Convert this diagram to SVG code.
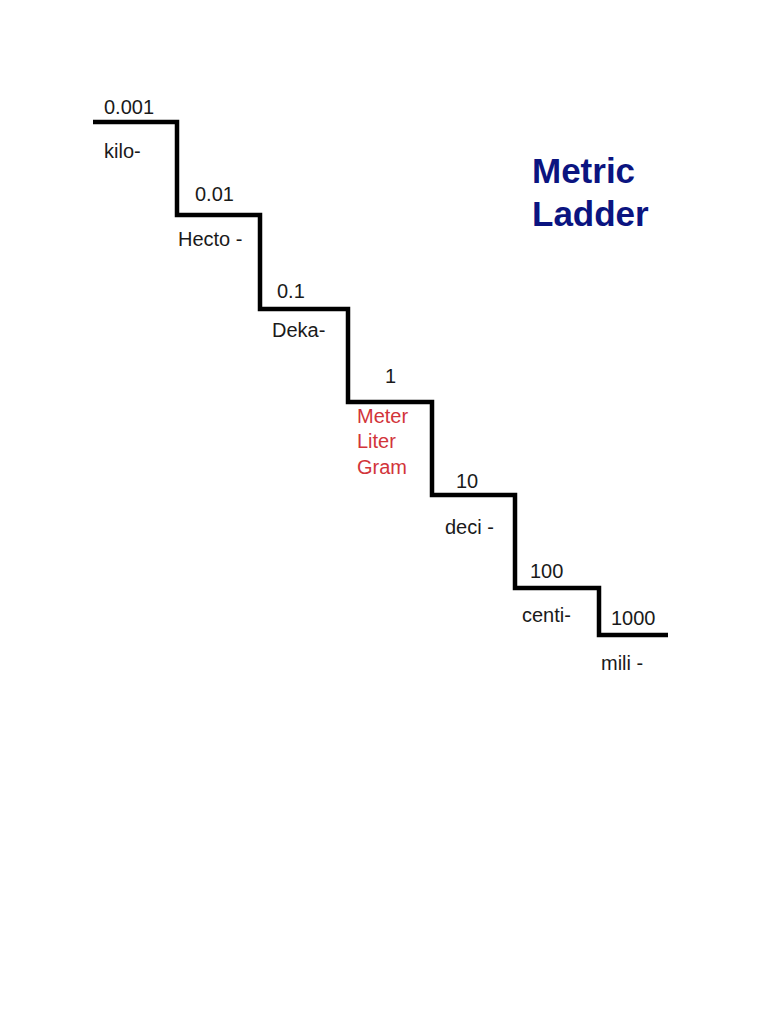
<svg xmlns="http://www.w3.org/2000/svg" width="768" height="1024" viewBox="0 0 768 1024">
<style>
.lbl{font-family:"Liberation Sans",Arial,sans-serif;font-size:20px;fill:#1a1a1a}
.red{fill:#d2343a}
.title{font-family:"Liberation Sans",Arial,sans-serif;font-size:35px;font-weight:bold;fill:#0b1480}
</style>
<rect width="768" height="1024" fill="#ffffff"/>
<g id="connectors">
<path d="M93,122 H177 V215 H260 V309 H348 V402 H432 V495 H515 V588 H599 V635 H668" fill="none" stroke="#000" stroke-width="4.5" stroke-linejoin="miter"/>
</g>
<g id="title"><text class="title" x="532" y="183">Metric</text><text class="title" x="532" y="226">Ladder</text></g>
<g id="kilo"><text class="lbl" x="104" y="114">0.001</text><text class="lbl" x="104" y="158">kilo-</text></g>
<g id="hecto"><text class="lbl" x="195" y="201">0.01</text><text class="lbl" x="178" y="246">Hecto -</text></g>
<g id="deka"><text class="lbl" x="277" y="298">0.1</text><text class="lbl" x="272" y="337">Deka-</text></g>
<g id="base"><text class="lbl" x="385" y="383">1</text><text class="lbl red" x="357" y="423">Meter</text><text class="lbl red" x="357" y="448">Liter</text><text class="lbl red" x="357" y="474">Gram</text></g>
<g id="deci"><text class="lbl" x="456" y="488">10</text><text class="lbl" x="445" y="534">deci -</text></g>
<g id="centi"><text class="lbl" x="530" y="578">100</text><text class="lbl" x="522" y="622">centi-</text></g>
<g id="mili"><text class="lbl" x="611" y="625">1000</text><text class="lbl" x="601" y="670">mili -</text></g>
</svg>
